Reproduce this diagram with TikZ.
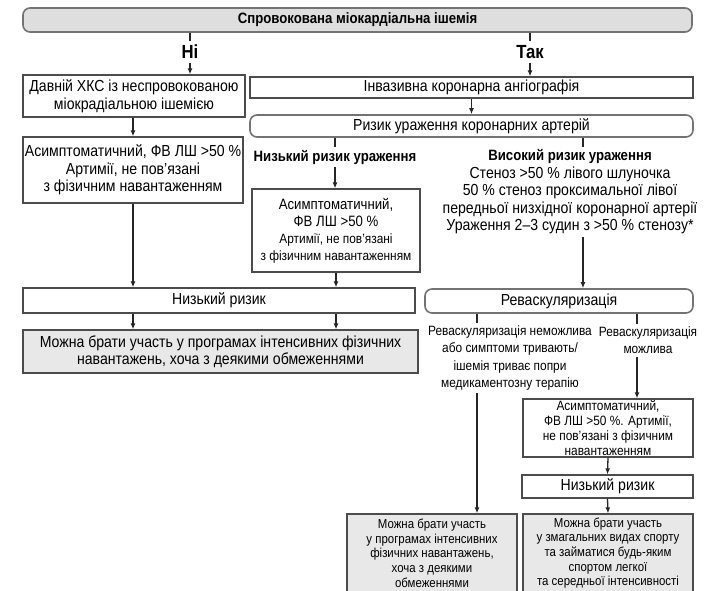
\documentclass[tikz,border=0pt]{standalone}
\usepackage{fontspec}
\setmainfont{Liberation Sans}[FakeStretch=0.88]
\usetikzlibrary{arrows.meta}

\begin{document}
\begin{tikzpicture}[x=1pt,y=-1pt,
	box/.style={draw=black!70, line width=1.3pt, fill=white, inner sep=0pt, align=center, font=\fontsize{16}{17.5}\selectfont},
	roundbox/.style={box, rounded corners=7pt, draw=black!55, line width=1.6pt},
	graybox/.style={box, fill=black!9},
	smallbox/.style={box, font=\fontsize{13.5}{15}\selectfont},
	branch/.style={inner sep=3pt, align=center, font=\fontsize{15}{17.5}\selectfont\bfseries},
	note/.style={inner sep=3pt, align=center, font=\fontsize{13.5}{17.3}\selectfont},
	conn/.style={black!85, line width=1.3pt},
	arr/.style={conn, -{Latex[length=6pt,width=5pt]}}]
			\useasboundingbox (0,0) rectangle (710,590);
			% columns of the connectors
			\coordinate (hx) at (583,0);
			\coordinate (rx1) at (477,0);
			\coordinate (rx2) at (637,0);
			% boxes
			\node[roundbox, fill=black!13, minimum width=669pt, minimum height=24pt, font=\fontsize{15}{17}\selectfont\bfseries] (top) at (357.5,20) {Спровокована міокардіальна ішемія};
			\node[branch, inner sep=4pt, font=\fontsize{19}{22}\selectfont\bfseries] (ni) at (190,52) {Ні};
			\node[branch, inner sep=4pt, font=\fontsize{19}{22}\selectfont\bfseries] (tak) at (530,52) {Так};
			\node[box, minimum width=222pt, minimum height=42pt] (davn) at (134,96) {Давній ХКС із неспровокованою\\міокрадіальною ішемією};
			\node[box, minimum width=443pt, minimum height=21pt] (inv) at (471.5,87.5) {Інвазивна коронарна ангіографія};
			\node[roundbox, minimum width=443pt, minimum height=22pt] (risk) at (471.5,126) {Ризик ураження коронарних артерій};
			\node[box, minimum width=220pt, minimum height=66pt] (asl) at (133,170) {Асимптоматичний, ФВ ЛШ >50 \%\\Артимії, не пов’язані\\з фізичним навантаженням};
			\node[branch] (lowlbl) at (335,157) {Низький ризик ураження};
			\node[note, font=\fontsize{16}{17.5}\selectfont] (highlbl) at (570,192) {{\fontsize{15}{17.5}\selectfont\bfseries Високий ризик ураження}\\Стеноз >50 \% лівого шлуночка\\50 \% стеноз проксимальної лівої\\передньої низхідної коронарної артерії\\Ураження 2–3 судин з >50 \% стенозу*};
			\node[box, minimum width=168pt, minimum height=83pt, font=\fontsize{15}{17}\selectfont] (asm) at (336,230.5) {Асимптоматичний,\\ФВ ЛШ >50 \%\\{\fontsize{13.5}{17}\selectfont Артимії, не пов’язані}\\{\fontsize{13.5}{17}\selectfont з фізичним навантаженням}};
			\node[box, minimum width=392pt, minimum height=25pt] (low) at (219,300.5) {Низький ризик};
			\node[roundbox, minimum width=268pt, minimum height=24pt] (rev) at (559,301) {Реваскуляризація};
			\node[graybox, minimum width=395pt, minimum height=43pt] (can1) at (220.5,351.5) {Можна брати участь у програмах інтенсивних фізичних\\навантажень, хоча з деякими обмеженнями};
			\node[note] (revno) at (510,358) {Реваскуляризація неможлива\\або симптоми тривають/\\ішемія триває попри\\медикаментозну терапію};
			\node[note] (revyes) at (648,340.5) {Реваскуляризація\\можлива};
			\node[smallbox, minimum width=170pt, minimum height=58pt] (asr) at (608,428) {Асимптоматичний,\\ФВ ЛШ >50 \%. Артимії,\\не пов’язані з фізичним\\навантаженням};
			\node[box, minimum width=171pt, minimum height=23pt] (lowr) at (607.5,486.5) {Низький ризик};
			\node[graybox, minimum width=170pt, minimum height=78pt, font=\fontsize{13}{14.7}\selectfont] (can2) at (432,553) {Можна брати участь\\у програмах інтенсивних\\фізичних навантажень,\\хоча з деякими\\обмеженнями};
			\node[graybox, minimum width=170pt, minimum height=78pt, font=\fontsize{13}{14.7}\selectfont] (can3) at (608,553) {Можна брати участь\\у змагальних видах спорту\\та займатися будь-яким\\спортом легкої\\та середньої інтенсивності};
			% connectors
			\draw[conn] (top.south -| ni) -- (ni.north);
			\draw[conn] (top.south -| tak) -- (tak.north);
			\draw[arr] (ni.south) -- (ni.south |- davn.north);
			\draw[arr] (tak.south) -- (tak.south |- inv.north);
			\draw[arr] (inv.south) -- (risk.north);
			\draw[arr] (davn.south -| asl.north) -- (asl.north);
			\draw[conn] (risk.south -| lowlbl) -- (lowlbl.north);
			\draw[conn] (risk.south -| hx) -- (highlbl.north -| hx);
			\draw[arr] (lowlbl.south) -- (lowlbl.south |- asm.north);
			\draw[arr] (asl.south) -- (asl.south |- low.north);
			\draw[arr] (asm.south) -- (asm.south |- low.north);
			\draw[arr] (highlbl.south -| hx) -- (rev.north -| hx);
			\draw[arr] (low.south -| asl.south) -- (can1.north -| asl.south);
			\draw[arr] (low.south -| asm.south) -- (can1.north -| asm.south);
			\draw[conn] (rev.south -| rx1) -- (revno.north -| rx1);
			\draw[conn] (rev.south -| rx2) -- (revyes.north -| rx2);
			\draw[arr] (revyes.south -| rx2) -- (asr.north -| rx2);
			\draw[arr] (revno.south -| rx1) -- (can2.north -| rx1);
			\draw[arr] (asr.south) -- (lowr.north);
			\draw[arr] (lowr.south) -- (can3.north);
\end{tikzpicture}
\end{document}
